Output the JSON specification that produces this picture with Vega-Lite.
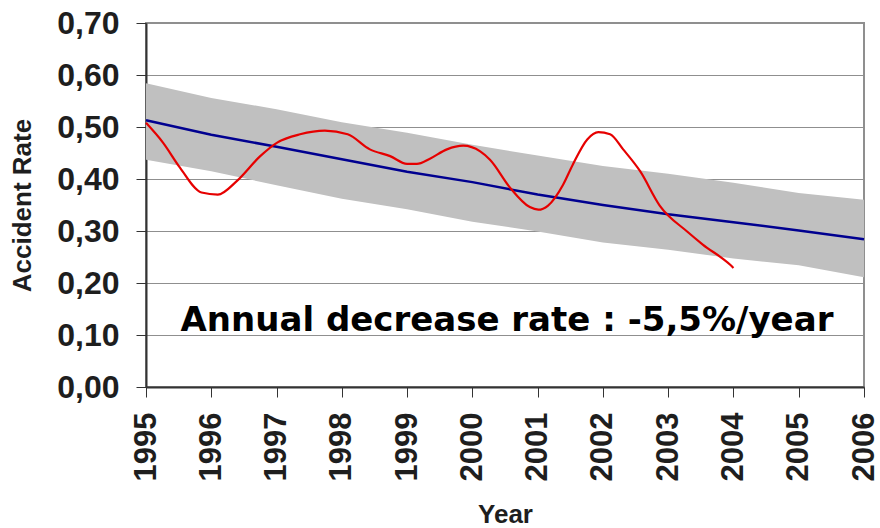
{
  "$schema": "https://vega.github.io/schema/vega-lite/v6.json",
  "autosize": {"type": "none"},
  "width": 718,
  "height": 364,
  "padding": {"left": 146, "top": 23, "right": 16, "bottom": 141},
  "background": "white",
  "datasets": {
    "trend": [
      {"year": 1995, "rate": 0.513, "lo": 0.437, "hi": 0.584},
      {"year": 1996, "rate": 0.485, "lo": 0.415, "hi": 0.556},
      {"year": 1997, "rate": 0.462, "lo": 0.388, "hi": 0.534},
      {"year": 1998, "rate": 0.438, "lo": 0.362, "hi": 0.509},
      {"year": 1999, "rate": 0.414, "lo": 0.342, "hi": 0.489},
      {"year": 2000, "rate": 0.394, "lo": 0.318, "hi": 0.466},
      {"year": 2001, "rate": 0.370, "lo": 0.299, "hi": 0.445},
      {"year": 2002, "rate": 0.350, "lo": 0.278, "hi": 0.425},
      {"year": 2003, "rate": 0.332, "lo": 0.264, "hi": 0.410},
      {"year": 2004, "rate": 0.317, "lo": 0.247, "hi": 0.393},
      {"year": 2005, "rate": 0.301, "lo": 0.234, "hi": 0.373},
      {"year": 2006, "rate": 0.284, "lo": 0.211, "hi": 0.360}
    ],
    "observed": [
      {"year": 1995.00, "rate": 0.508},
      {"year": 1995.26, "rate": 0.470},
      {"year": 1995.52, "rate": 0.422},
      {"year": 1995.85, "rate": 0.374},
      {"year": 1996.10, "rate": 0.370},
      {"year": 1996.39, "rate": 0.396},
      {"year": 1996.75, "rate": 0.444},
      {"year": 1997.01, "rate": 0.470},
      {"year": 1997.36, "rate": 0.486},
      {"year": 1997.74, "rate": 0.493},
      {"year": 1998.09, "rate": 0.486},
      {"year": 1998.43, "rate": 0.457},
      {"year": 1998.74, "rate": 0.444},
      {"year": 1999.00, "rate": 0.429},
      {"year": 1999.15, "rate": 0.429},
      {"year": 1999.35, "rate": 0.439},
      {"year": 1999.61, "rate": 0.457},
      {"year": 1999.86, "rate": 0.464},
      {"year": 2000.12, "rate": 0.453},
      {"year": 2000.27, "rate": 0.437},
      {"year": 2000.58, "rate": 0.383},
      {"year": 2000.88, "rate": 0.346},
      {"year": 2001.01, "rate": 0.341},
      {"year": 2001.16, "rate": 0.349},
      {"year": 2001.39, "rate": 0.389},
      {"year": 2001.54, "rate": 0.428},
      {"year": 2001.76, "rate": 0.476},
      {"year": 2001.93, "rate": 0.490},
      {"year": 2002.11, "rate": 0.486},
      {"year": 2002.31, "rate": 0.457},
      {"year": 2002.57, "rate": 0.415},
      {"year": 2002.87, "rate": 0.349},
      {"year": 2003.29, "rate": 0.299},
      {"year": 2003.53, "rate": 0.274},
      {"year": 2003.95, "rate": 0.235},
      {"year": 2004.00, "rate": 0.229}
    ],
    "note": [
      {"year": 2000.53, "rate": 0.127, "label": "Annual decrease rate : -5,5%/year"}
    ]
  },
  "config": {
    "view": {"stroke": "#8f8f8f", "strokeWidth": 2},
    "font": "Liberation Sans",
    "axis": {
      "domainColor": "#333333",
      "domainWidth": 2,
      "tickColor": "#333333",
      "tickSize": 10,
      "tickWidth": 1,
      "gridColor": "#8f8f8f",
      "gridWidth": 1,
      "labelFont": "Liberation Sans",
      "labelFontWeight": "bold",
      "labelColor": "#1e1e1e",
      "titleFont": "Liberation Sans",
      "titleFontWeight": "bold",
      "titleColor": "#1e1e1e"
    }
  },
  "encoding": {
    "x": {
      "field": "year",
      "type": "quantitative",
      "scale": {"domain": [1995, 2006], "nice": false, "zero": false},
      "axis": {
        "title": "Year",
        "titleFontSize": 26,
        "titlePadding": 21,
        "values": [1995, 1996, 1997, 1998, 1999, 2000, 2001, 2002, 2003, 2004, 2005, 2006],
        "format": "d",
        "labelAngle": -90,
        "labelFontSize": 31,
        "labelPadding": 15,
        "labelFlush": false,
        "labelOverlap": false,
        "grid": false
      }
    },
    "y": {
      "field": "rate",
      "type": "quantitative",
      "scale": {"domain": [0, 0.7], "nice": false},
      "axis": {
        "title": "Accident Rate",
        "titleFontSize": 26,
        "titlePadding": 21,
        "values": [0, 0.1, 0.2, 0.3, 0.4, 0.5, 0.6, 0.7],
        "labelExpr": "replace(format(datum.value, '.2f'), '.', ',')",
        "labelFontSize": 32,
        "labelPadding": 17,
        "labelFlush": false,
        "labelOverlap": false,
        "grid": true
      }
    }
  },
  "layer": [
    {
      "data": {"name": "trend"},
      "mark": {"type": "area", "color": "#c0c0c0", "opacity": 1},
      "encoding": {
        "y": {"field": "hi", "type": "quantitative"},
        "y2": {"field": "lo"}
      }
    },
    {
      "data": {"name": "trend"},
      "mark": {"type": "line", "color": "#000090", "strokeWidth": 2.5}
    },
    {
      "data": {"name": "observed"},
      "mark": {"type": "line", "color": "#e60000", "strokeWidth": 2.2, "interpolate": "monotone"}
    },
    {
      "data": {"name": "note"},
      "mark": {
        "type": "text",
        "font": "DejaVu Sans",
        "fontWeight": "bold",
        "fontSize": 34,
        "color": "#000000",
        "align": "center",
        "baseline": "middle"
      },
      "encoding": {
        "text": {"field": "label"}
      }
    }
  ]
}
